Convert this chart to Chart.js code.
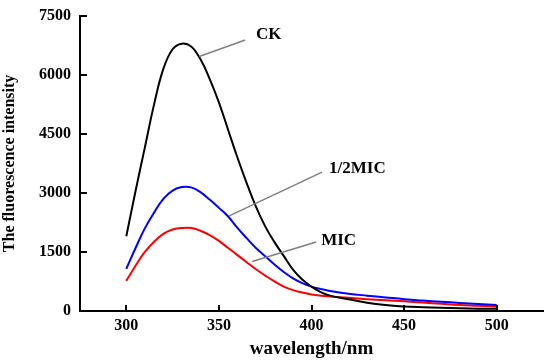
<!DOCTYPE html>
<html>
<head>
<meta charset="utf-8">
<script src="https://cdn.jsdelivr.net/npm/chart.js@4.4.0/dist/chart.umd.min.js"></script>
<style>
html, body { margin: 0; padding: 0; background: #fff; }
#wrap { width: 546px; height: 360px; }
</style>
</head>
<body>
<div id="wrap"><canvas id="grafico"></canvas></div>
<script>
// wavelengths (nm)
var comprimentos = [300,305,310,315,320,325,330,335,340,345,350,355,360,365,370,375,380,385,390,395,400,405,410,420,430,440,450,460,470,480,490,500];
var serieCK  = [1900,3050,4150,5250,6150,6650,6790,6720,6400,5900,5300,4600,3900,3250,2650,2150,1750,1400,1050,800,620,480,390,300,210,150,115,95,80,70,60,55];
var serieMeia = [1070,1600,2100,2500,2850,3060,3150,3140,3020,2830,2620,2400,2110,1850,1600,1390,1180,990,830,710,620,560,510,440,390,345,300,265,235,205,180,155];
var serieMIC = [765,1150,1500,1760,1960,2070,2110,2110,2040,1930,1780,1600,1420,1240,1060,900,750,620,530,470,420,390,370,335,300,270,245,215,185,155,135,115];
var nomes = ["CK", "1/2MIC", "MIC"];
var xTicks = [300, 350, 400, 450, 500];
var yTicks = [0, 1500, 3000, 4500, 6000, 7500];

function pares(valores) {
    return comprimentos.map(function(c, i) { return { x: c, y: valores[i] }; });
}

// callout lines: from curve point to label, in data units
var chamadas = [
    { texto: nomes[0], de: [339.4, 6464], ate: [364.2, 6884], rotulo: [370, 7010] },
    { texto: nomes[1], de: [355.6, 2418], ate: [405.7, 3528], rotulo: [409.5, 3630] },
    { texto: nomes[2], de: [368.0, 1258], ate: [402.5, 1752], rotulo: [405.2, 1780] }
];

var marcas = {
    id: 'marcas',
    afterDraw: function(chart) {
        var ctx = chart.ctx, sx = chart.scales.x, sy = chart.scales.y;
        ctx.save();
        ctx.strokeStyle = '#000';
        ctx.lineWidth = 2;
        xTicks.forEach(function(v) {
            var px = Math.round(sx.getPixelForValue(v));
            ctx.beginPath(); ctx.moveTo(px, sy.bottom); ctx.lineTo(px, sy.bottom - 6); ctx.stroke();
        });
        yTicks.forEach(function(v) {
            var py = Math.round(sy.getPixelForValue(v));
            ctx.beginPath(); ctx.moveTo(sx.left, py); ctx.lineTo(sx.left + 7, py); ctx.stroke();
        });
        ctx.strokeStyle = '#808080';
        ctx.lineWidth = 1.5;
        ctx.fillStyle = '#000';
        ctx.font = 'bold 17px "Liberation Serif"';
        ctx.textBaseline = 'middle';
        ctx.textAlign = 'left';
        chamadas.forEach(function(c) {
            ctx.beginPath();
            ctx.moveTo(sx.getPixelForValue(c.de[0]), sy.getPixelForValue(c.de[1]));
            ctx.lineTo(sx.getPixelForValue(c.ate[0]), sy.getPixelForValue(c.ate[1]));
            ctx.stroke();
            ctx.fillText(c.texto, sx.getPixelForValue(c.rotulo[0]), sy.getPixelForValue(c.rotulo[1]));
        });
        ctx.restore();
    }
};

var fonteTick = { family: 'Liberation Serif', size: 16, weight: 'bold', lineHeight: 0.85 };
function semVirgula(v) { return String(v); }

var ctx = document.getElementById("grafico");
var grafico = new Chart(ctx, {
    type: 'line',
    data: {
        datasets: [{
            label: nomes[0], data: pares(serieCK),
            borderColor: '#000000', borderWidth: 2
        }, {
            label: nomes[1], data: pares(serieMeia),
            borderColor: '#0000ff', borderWidth: 2
        }, {
            label: nomes[2], data: pares(serieMIC),
            borderColor: '#ff0000', borderWidth: 2
        }]
    },
    options: {
        responsive: true,
        maintainAspectRatio: false,
        animation: false,
        layout: { padding: { top: 7, right: 3, left: 0, bottom: 0 } },
        elements: {
            point: { radius: 0 },
            line: { tension: 0.4, fill: false }
        },
        plugins: { legend: { display: false }, tooltip: { enabled: false } },
        scales: {
            x: {
                type: 'linear', min: 275, max: 525,
                afterBuildTicks: function(scale) {
                    scale.ticks = xTicks.map(function(v) { return { value: v }; });
                },
                afterFit: function(scale) { scale.height = 49; },
                grid: { display: false, drawTicks: false },
                border: { display: true, color: '#000', width: 2 },
                ticks: { color: '#000', font: fonteTick, padding: 8, maxRotation: 0, callback: semVirgula },
                title: {
                    display: true, text: 'wavelength/nm', color: '#000',
                    font: { family: 'Liberation Serif', size: 19, weight: 'bold' },
                    padding: { top: 0, bottom: 0 }
                }
            },
            y: {
                min: 0, max: 7500,
                afterBuildTicks: function(scale) {
                    scale.ticks = yTicks.map(function(v) { return { value: v }; });
                },
                afterFit: function(scale) { scale.width = 80; },
                grid: { display: false, drawTicks: false },
                border: { display: true, color: '#000', width: 2 },
                ticks: { color: '#000', font: fonteTick, padding: 9, callback: semVirgula },
                title: {
                    display: true, text: 'The fluorescence intensity', color: '#000',
                    font: { family: 'Liberation Serif', size: 16, weight: 'bold' },
                    padding: { top: 0, bottom: 0 }
                }
            }
        }
    },
    plugins: [marcas]
});
</script>
</body>
</html>
